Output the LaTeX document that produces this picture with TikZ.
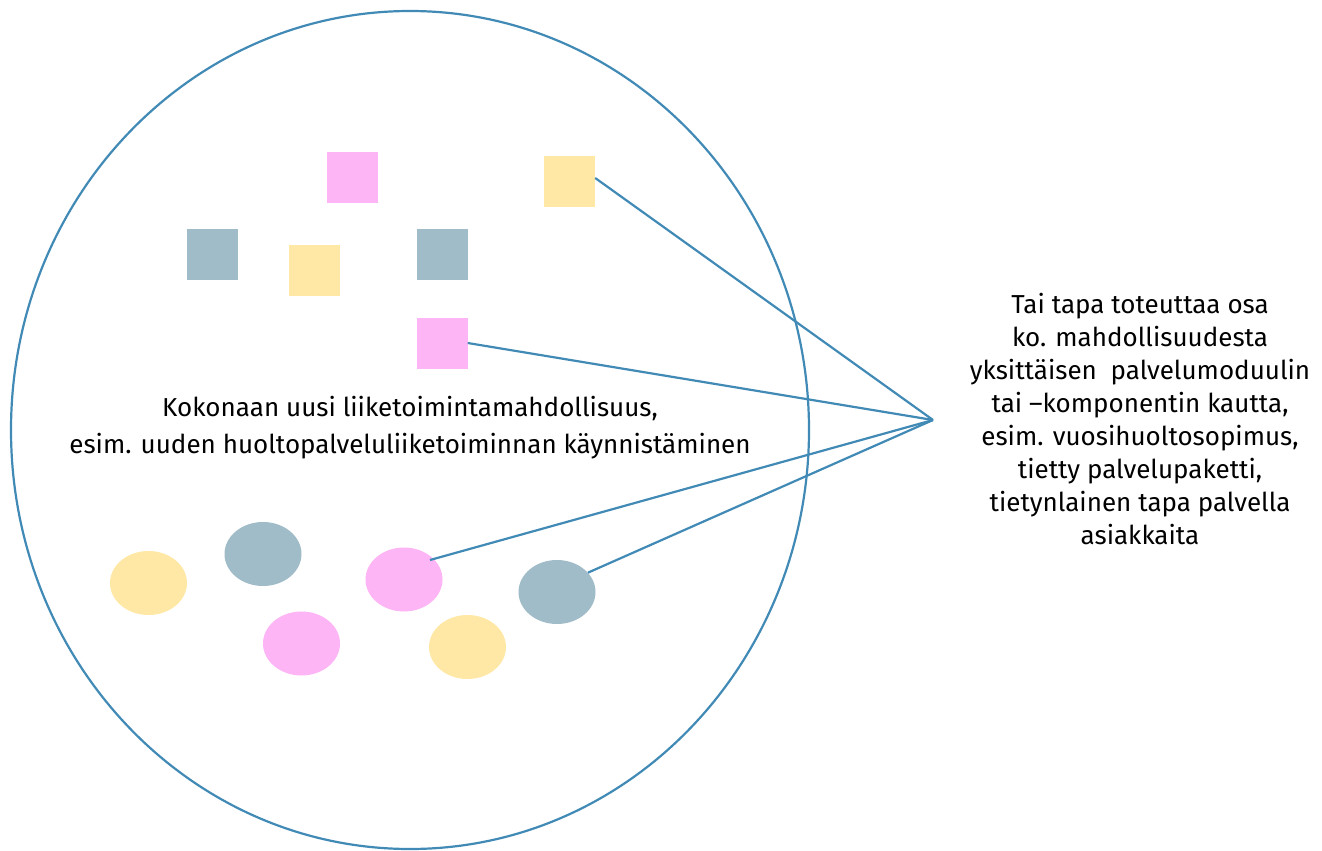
\documentclass[tikz,border=0pt]{standalone}
\usepackage{fontspec}
\setmainfont{Fira Sans}
\usetikzlibrary{shapes.geometric,calc}
\definecolor{linkblue}{HTML}{418AB5}
\definecolor{pinkf}{HTML}{FDB5F5}
\definecolor{yellowf}{HTML}{FFE8A6}
\definecolor{greyblue}{HTML}{9FBCC8}
\tikzset{
  sq/.style={rectangle, minimum size=51pt, inner sep=0pt, draw=none},
  blob/.style={ellipse, minimum width=77pt, minimum height=64pt, inner sep=0pt, draw=none},
  link/.style={draw=linkblue, line width=2.2pt},
  label/.style={align=center, font=\fontsize{26}{33}\selectfont, inner sep=0pt}
}
\begin{document}
\begin{tikzpicture}[x=1pt,y=-1pt]
  \useasboundingbox (0,0) rectangle (1322,851);
  % outer opportunity ellipse
  \node[ellipse, draw=linkblue, line width=2.2pt, minimum width=798pt, minimum height=838pt, inner sep=0pt] (big) at (410,430) {};
  % service modules (squares)
  \node[sq, fill=pinkf]    (p1) at (352.5,177.5) {};
  \node[sq, fill=yellowf]  (y1) at (569.5,181) {};
  \node[sq, fill=greyblue] (g1) at (212,254) {};
  \node[sq, fill=yellowf]  (y2) at (314,270) {};
  \node[sq, fill=greyblue] (g2) at (442,254) {};
  \node[sq, fill=pinkf]    (p2) at (442,343) {};
  % service components (ellipses)
  \node[blob, fill=yellowf]  (ey1) at (148.5,583) {};
  \node[blob, fill=greyblue] (eg1) at (263,554) {};
  \node[blob, fill=pinkf]    (ep1) at (404,579.5) {};
  \node[blob, fill=greyblue] (eg2) at (557,592) {};
  \node[blob, fill=pinkf]    (ep2) at (301.5,643.5) {};
  \node[blob, fill=yellowf]  (ey2) at (467.5,647) {};
  % texts
  \node[label, font=\fontsize{26}{37}\selectfont] (main) at (410,428) {Kokonaan uusi liiketoimintamahdollisuus,\\esim. uuden huoltopalveluliiketoiminnan käynnistäminen};
  \node[label] (side) at (1140,419) {Tai tapa toteuttaa osa\\ko. mahdollisuudesta\\yksittäisen\ \ palvelumoduulin\\tai –komponentin kautta,\\esim. vuosihuoltosopimus,\\tietty palvelupaketti,\\tietynlainen tapa palvella\\asiakkaita};
  % connectors
  \coordinate (hub) at (933,420);
  \coordinate (epin) at ($(ep1.center)+(26,-19.5)$);
  \draw[link] (y1.east) ++(0,-3) -- (hub);
  \draw[link] (p2.east) -- (hub);
  \draw[link] (epin) -- (hub);
  \draw[link] (eg2.32) -- (hub);
\end{tikzpicture}
\end{document}
